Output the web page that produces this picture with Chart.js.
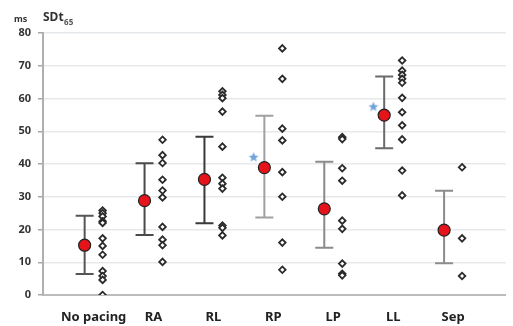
<!DOCTYPE html>
<html>
<head>
<meta charset="utf-8">
<script src="https://cdn.jsdelivr.net/npm/chart.js@4.4.1/dist/chart.umd.min.js"></script>
<style>
  html, body { margin: 0; padding: 0; background: #fff; }
  #wrap { width: 513px; height: 326px; position: relative; }
</style>
</head>
<body>
<div id="wrap"><canvas id="myChart"></canvas></div>
<script>
const categories = ['No pacing', 'RA', 'RL', 'RP', 'LP', 'LL', 'Sep'];

// group means and SD range
const means  = [15.2, 28.8, 35.3, 38.9, 26.3, 54.9, 19.8];
const sdLow  = [6.4, 18.3, 21.9, 23.7, 14.4, 44.8, 9.7];
const sdHigh = [24.2, 40.2, 48.3, 54.7, 40.7, 66.7, 31.8];

// individual measurements per group
const noPacing = [25.8, 25, 24, 22.5, 22, 17.3, 15, 12.3, 7.3, 5.8, 4.6, 0];
const ra = [47.4, 42.7, 40.3, 35.2, 31.9, 29.8, 20.8, 16.9, 15.2, 10.1];
const rl = [62.2, 61.1, 60.1, 56, 45.3, 35.8, 34, 32.5, 21.2, 20.5, 18.2];
const rp = [75.3, 66, 50.8, 47.2, 37.5, 30, 16, 7.7];
const lp = [48.2, 47.6, 38.7, 34.9, 22.7, 20.2, 9.6, 6.5, 6.0];
const ll = [71.6, 68.5, 67.2, 66, 64.8, 60.2, 55.8, 51.8, 47.5, 38, 30.4];
const sep = [39, 17.3, 5.8];

// significance markers
const starGroups = [3, 5];
const starValues = [42.2, 57.6];

const yTicks = [0, 10, 20, 30, 40, 50, 60, 70, 80];

const groups = [noPacing, ra, rl, rp, lp, ll, sep];
const barColors = ['#555', '#4a4a4a', '#3a3a3a', '#a0a0a0', '#8a8a8a', '#6a6a6a', '#8c8c8c'];

const meanOffset = -0.15;
const dotOffset = 0.15;
const starOffset = -0.33;

const dots = [];
groups.forEach((vals, i) => vals.forEach(v => dots.push({ x: i + dotOffset, y: v })));

// small filled star used as point image
const starImg = document.createElement('canvas');
starImg.width = 12; starImg.height = 12;
(function () {
    const c = starImg.getContext('2d');
    c.fillStyle = '#6fa3d8';
    c.beginPath();
    for (let k = 0; k < 10; k++) {
        const r = k % 2 === 0 ? 5.2 : 2.3;
        const a = -Math.PI / 2 + k * Math.PI / 5;
        const px = 6 + r * Math.cos(a), py = 6.5 + r * Math.sin(a);
        if (k === 0) c.moveTo(px, py); else c.lineTo(px, py);
    }
    c.closePath();
    c.fill();
})();

const errorBars = {
    id: 'errorBars',
    beforeDatasetsDraw(chart) {
        const { ctx, scales: { x, y } } = chart;
        ctx.save();
        ctx.lineWidth = 2;
        means.forEach((m, i) => {
            const px = x.getPixelForValue(i + meanOffset);
            const top = y.getPixelForValue(sdHigh[i]);
            const bot = y.getPixelForValue(sdLow[i]);
            ctx.strokeStyle = barColors[i];
            ctx.beginPath();
            ctx.moveTo(px, top); ctx.lineTo(px, bot);
            ctx.moveTo(px - 9, top); ctx.lineTo(px + 9, top);
            ctx.moveTo(px - 9, bot); ctx.lineTo(px + 9, bot);
            ctx.stroke();
        });
        ctx.restore();
    }
};

const titleText = {
    id: 'titleText',
    afterDraw(chart) {
        const ctx = chart.ctx;
        ctx.save();
        ctx.fillStyle = '#333';
        ctx.textBaseline = 'alphabetic';
        ctx.font = 'bold 9px "Noto Sans"';
        ctx.fillText('ms', 14, 22);
        ctx.font = 'bold 12px "Noto Sans"';
        ctx.fillText('SDt', 43, 21);
        const w = ctx.measureText('SDt').width;
        ctx.font = 'bold 8px "Noto Sans"';
        ctx.fillStyle = '#555';
        ctx.fillText('65', 43 + w + 0.5, 25);
        ctx.restore();
    }
};

const ctx = document.getElementById('myChart').getContext('2d');

const myChart = new Chart(ctx, {
    type: 'scatter',
    data: {
        datasets: [
            {
                label: 'means',
                data: means.map((m, i) => ({ x: i + meanOffset, y: m })),
                pointStyle: 'circle',
                pointRadius: 6,
                backgroundColor: '#e5141b',
                borderColor: '#222',
                borderWidth: 1.2,
                order: 0,
            },
            {
                label: 'values',
                data: dots,
                pointStyle: 'rectRot',
                pointRadius: 3.3,
                backgroundColor: '#fff',
                borderColor: '#2a2a2a',
                borderWidth: 1.8,
                order: 1,
            },
            {
                label: 'stars',
                data: starGroups.map((g, k) => ({ x: g + starOffset, y: starValues[k] })),
                pointStyle: starImg,
                order: 2,
            },
        ],
    },
    options: {
        responsive: true,
        maintainAspectRatio: false,
        animation: false,
        events: [],
        layout: {
            padding: { top: 33, right: 3, left: 0, bottom: 0 },
        },
        scales: {
            x: {
                type: 'linear',
                min: -0.845,
                max: 6.88,
                afterBuildTicks: (scale) => {
                    scale.ticks = categories.map((c, i) => ({ value: i }));
                },
                afterFit: (scale) => { scale.height = 31; },
                grid: { display: false, drawTicks: false },
                border: { color: '#bcbcbc', width: 2 },
                ticks: {
                    autoSkip: false,
                    maxRotation: 0,
                    padding: 14,
                    color: '#222',
                    font: { family: 'Noto Sans', size: 13, weight: 'bold' },
                    callback: (v) => categories[v] ?? '',
                },
            },
            y: {
                min: 0,
                max: 80,
                afterBuildTicks: (scale) => {
                    scale.ticks = yTicks.map(v => ({ value: v }));
                },
                afterFit: (scale) => { scale.width = 43; },
                grid: {
                    color: '#e6e9eb',
                    tickColor: '#a8a8a8',
                    tickLength: 5,
                    lineWidth: 1.5,
                },
                border: { color: '#b0b0b0', width: 2 },
                ticks: {
                    padding: 7,
                    color: '#333',
                    font: { family: 'Noto Sans', size: 11, weight: 'bold' },
                },
            },
        },
        plugins: {
            legend: { display: false },
            tooltip: { enabled: false },
        },
    },
    plugins: [errorBars, titleText],
});
</script>
</body>
</html>
